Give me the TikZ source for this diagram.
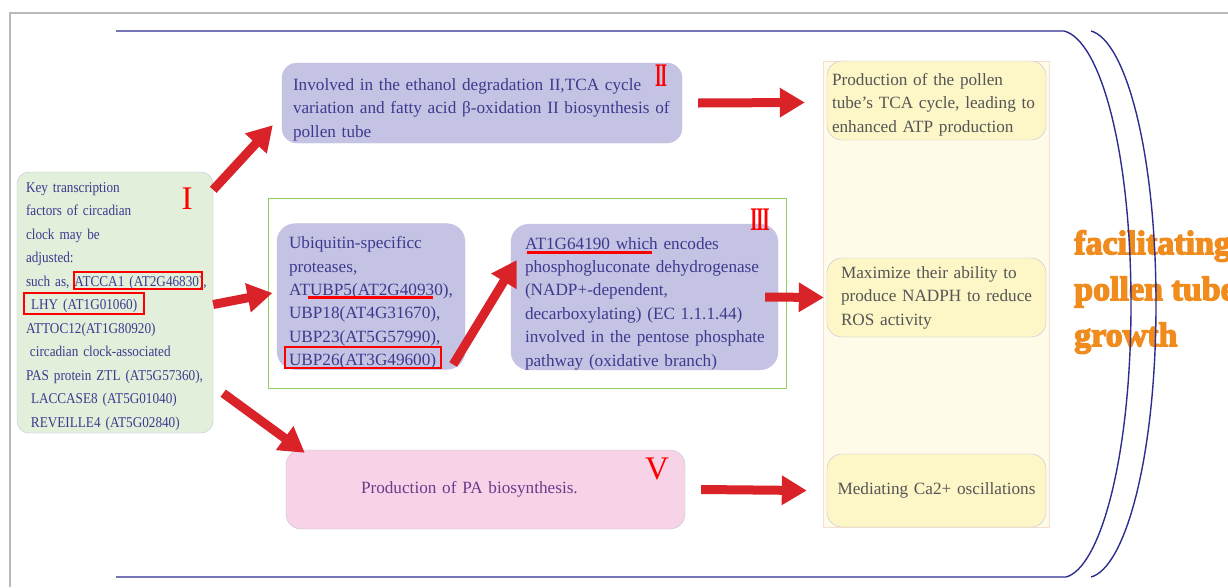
\documentclass[tikz,border=0pt]{standalone}
\usepackage{fontspec}
\usepackage{graphicx}
\setmainfont{Liberation Serif}
\newfontfamily\narrowfont[FakeStretch=0.88]{Liberation Serif}
\newfontfamily\heavyfont[BoldFeatures={FakeBold=4}]{Liberation Serif}
\usetikzlibrary{arrows.meta}
\definecolor{inkblue}{HTML}{3D3A8E}
\definecolor{inkpurple}{HTML}{6E3A8C}
\definecolor{inkgray}{HTML}{555555}
\definecolor{lilac}{HTML}{C5C3E4}
\definecolor{mint}{HTML}{E1EFDB}
\definecolor{blush}{HTML}{F6D3E6}
\definecolor{cream}{HTML}{FDF6C6}
\definecolor{colfill}{HTML}{FFFBE9}
\definecolor{colline}{HTML}{F8DDD2}
\definecolor{softline}{HTML}{C4C2DC}
\definecolor{framegreen}{HTML}{92CF5E}
\definecolor{arrowred}{HTML}{DA2328}
\definecolor{bracketblue}{HTML}{2E2E8E}
\definecolor{groworange}{HTML}{F08C1E}
\tikzset{
  box/.style={rounded corners=15pt, inner ysep=0pt, align=left, text=inkblue,
    font=\fontsize{17.2}{23.4}\selectfont},
  drop/.style={execute at begin node={\rule{0pt}{#1}}},
  lilacbox/.style={box, fill=lilac, draw=lilac},
  creambox/.style={box, fill=cream, draw=softline, text=inkgray},
  numlabel/.style={text=red, inner sep=0pt, font=\fontsize{33}{33}\selectfont},
  bigarrow/.style={-{Triangle[width=28pt,length=25pt]}, line width=9pt, draw=arrowred},
  redbox/.style={draw=red, line width=1.2pt},
  redline/.style={draw=red, line width=3pt}
}
\begin{document}
\begin{tikzpicture}
  [x=1pt,y=-1pt]
  \fill[white] (0,0) rectangle (1228,587);
  \useasboundingbox (0,0) rectangle (1228,587);
  \draw[gray!55, line width=2pt] (10,587) -- (10,13) -- (1228,13);

  \node[box, drop=18pt, fill=mint, draw=softline, rounded corners=12pt, minimum width=196, minimum height=261,
    inner xsep=9pt, text width=178pt, font=\narrowfont\fontsize{15}{23.5}\selectfont] (lbox) at (115,302.5)
    {Key transcription\\ factors of circadian\\ clock may be\\ adjusted:\\
     \mbox{such as, ATCCA1 (AT2G46830),}\\ \hspace*{5pt}LHY (AT1G01060) ,\\ ATTOC12(AT1G80920)\\
     \mbox{\hspace*{4pt}circadian clock-associated}\\ \mbox{PAS protein ZTL (AT5G57360),}\\
     \hspace*{5pt}LACCASE8 (AT5G01040)\\ \hspace*{5pt}REVEILLE4 (AT5G02840)};
  \draw[redbox] (74,272) rectangle (202,289);
  \draw[redbox] (24,293) rectangle (144,314);
  \node[numlabel] (nI) at (187,199) {I};

  \node[lilacbox, drop=25pt, minimum width=400, minimum height=80, inner xsep=11pt, text width=378pt] (two) at (482,103)
    {Involved in the ethanol degradation II,TCA cycle\\ \mbox{variation and fatty acid β-oxidation II biosynthesis of}\\ pollen tube};
  \node[numlabel, font=\bfseries\fontsize{33}{33}\selectfont] (nII) at (661,76) {\scalebox{0.5}[1]{I\kern-0.05em I}};

  \node[draw=framegreen, line width=1pt, minimum width=518, minimum height=190] (frameIII) at (527,293) {};
  \node[lilacbox, drop=25pt, rounded corners=18pt, minimum width=188, minimum height=143, inner xsep=12pt, text width=164pt] (ubp) at (371,296.5)
    {Ubiquitin-specificc\\ proteases,\\ \mbox{ATUBP5(AT2G40930),}\\ UBP18(AT4G31670),\\ UBP23(AT5G57990),\\ UBP26(AT3G49600)};
  \draw[redline] (308,297) -- (433,297);
  \draw[redbox] (285,347) rectangle (441,368);
  \node[lilacbox, drop=25pt, rounded corners=18pt, minimum width=267, minimum height=141, inner xsep=14pt, text width=239pt] (at1g) at (644.5,297)
    {AT1G64190 which encodes\\ \mbox{phosphogluconate dehydrogenase}\\ (NADP+-dependent,\\ decarboxylating) (EC 1.1.1.44)\\
     \mbox{involved in the pentose phosphate}\\ pathway (oxidative branch)};
  \draw[redline] (527,252.5) -- (652,252.5);
  \node[numlabel, font=\bfseries\fontsize{33}{33}\selectfont] (nIII) at (760,220) {\scalebox{0.55}[1]{I\kern-0.05em I\kern-0.05em I}};

  \node[box, fill=blush, draw=softline, minimum width=399, minimum height=79, inner xsep=75pt, text width=249pt,
    text=inkpurple] (five) at (485.5,489.5) {Production of PA biosynthesis.};
  \node[numlabel] (nV) at (657,469) {V};

  \node[fill=colfill, draw=colline, minimum width=226, minimum height=466] (col) at (936,294) {};
  \node[creambox, drop=20pt, minimum width=219, minimum height=79, inner xsep=5pt, text width=209pt] (yone) at (936.5,100.5)
    {Production of the pollen\\ \mbox{tube’s TCA cycle, leading to}\\ enhanced ATP production};
  \node[creambox, minimum width=219, minimum height=79, inner xsep=14pt, text width=191pt] (ytwo) at (936.5,297.5)
    {Maximize their ability to\\ \mbox{produce NADPH to reduce}\\ ROS activity};
  \node[creambox, align=center, minimum width=219, minimum height=73, inner xsep=5pt, text width=209pt] (ythree) at (936.5,490.5)
    {Mediating Ca2+ oscillations};

  \draw[bigarrow] ([yshift=-18pt]lbox.north east) -- ([xshift=-9pt,yshift=18pt]two.south west);
  \draw[bigarrow] ([yshift=-2pt]lbox.east) -- ([xshift=5pt]frameIII.west);
  \draw[bigarrow] ([xshift=10pt,yshift=40pt]lbox.south east) -- ([xshift=19pt,yshift=-3pt]five.north west);
  \draw[bigarrow] ([xshift=-12pt,yshift=5pt]ubp.south east) -- ([xshift=6pt,yshift=37pt]at1g.west);
  \draw[bigarrow] ([xshift=16pt]two.east) -- ([xshift=-22pt,yshift=-2pt]yone.west);
  \draw[bigarrow] ([xshift=-13pt]at1g.east) -- ([xshift=-3pt]ytwo.west);
  \draw[bigarrow] ([xshift=16pt]five.east) -- ([xshift=-20pt]ythree.west);

  \node[anchor=west, inner sep=0pt, align=left, text=groworange,
    font=\heavyfont\bfseries\fontsize{34}{46}\selectfont] (growth) at (1074,292) {facilitating\\ pollen tube\\ growth};

  \draw[bracketblue, line width=1.4pt] (116,31) -- (1064,31) .. controls (1100,40) and (1131,150) .. (1131,304)
    .. controls (1131,458) and (1100,568) .. (1066,577) -- (116,577);
  \draw[bracketblue, line width=1.4pt] (1091,31) .. controls (1125,40) and (1156,150) .. (1156,304)
    .. controls (1156,458) and (1125,568) .. (1091,577);
\end{tikzpicture}
\end{document}
